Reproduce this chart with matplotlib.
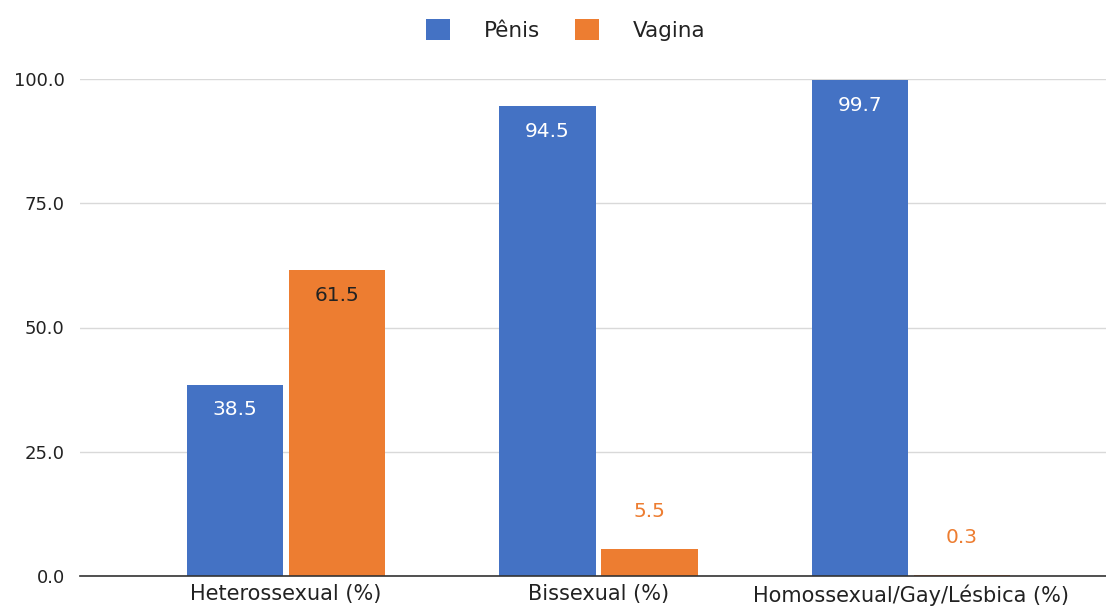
import matplotlib
matplotlib.use("Agg")
import matplotlib.pyplot as plt
import numpy as np

categories = ["Heterossexual (%)", "Bissexual (%)", "Homossexual/Gay/Lésbica (%)"]
penis = [38.5, 94.5, 99.7]
vagina = [61.5, 5.5, 0.3]
series_names = ["Pênis", "Vagina"]
yticks = [0, 25, 50, 75, 100]

BLUE = "#4472c4"
ORANGE = "#ed7d31"
FONT = "DejaVu Sans"

fig = plt.figure(figsize=(11.06, 6.08), dpi=100)
ax = fig.add_axes([80/1106, 32/608, (1117-80)/1106, (576-79)/608])

x = np.arange(len(categories))
w = 0.308
off = 0.163
b1 = ax.bar(x - off, penis, w, color=BLUE, label=series_names[0], zorder=3)
b2 = ax.bar(x + off, vagina, w, color=ORANGE, label=series_names[1], zorder=3)

ax.set_xlim(-0.66, 2.66)
ax.set_ylim(0, 100)
ax.set_yticks(yticks)
ax.set_yticklabels([f"{v:.1f}" for v in yticks], fontsize=13, color="#222222", family=FONT)
ax.set_xticks(x)
ax.set_xticklabels(categories, fontsize=15, color="#222222", family=FONT)
ax.tick_params(axis="both", length=0)
ax.tick_params(axis="x", pad=6)
ax.tick_params(axis="y", pad=11)
ax.grid(axis="y", color="#d9d9d9", linewidth=1, zorder=0)
for s in ["left", "right", "top"]:
    ax.spines[s].set_visible(False)
ax.spines["bottom"].set_color("#333333")
ax.spines["bottom"].set_linewidth(1.2)
ax.spines["bottom"].set_zorder(4)

def label_bars(bars, vals, inside_color, outside_color):
    for b, v in zip(bars, vals):
        cx = b.get_x() + b.get_width() / 2
        if v > 20:
            ax.annotate(f"{v:.1f}", (cx, v), xytext=(0, -18), textcoords="offset points",
                        ha="center", va="center", fontsize=14.5, color=inside_color,
                        family=FONT, zorder=5)
        else:
            ax.annotate(f"{v:.1f}", (cx, v), xytext=(0, 27), textcoords="offset points",
                        ha="center", va="center", fontsize=14.5, color=outside_color,
                        family=FONT, zorder=5)

label_bars(b1, penis, "#ffffff", BLUE)
label_bars(b2, vagina, "#222222", ORANGE)

leg = fig.legend(handles=[b1, b2], labels=series_names, loc="center",
                 bbox_to_anchor=(566/1106, 1 - 30/608), ncol=2, frameon=False,
                 handlelength=1.1, handleheight=1.1, handletextpad=1.6,
                 columnspacing=1.6, prop={"family": FONT, "size": 15.5})
for t in leg.get_texts():
    t.set_color("#222222")

fig.savefig("out.png", dpi=100)
